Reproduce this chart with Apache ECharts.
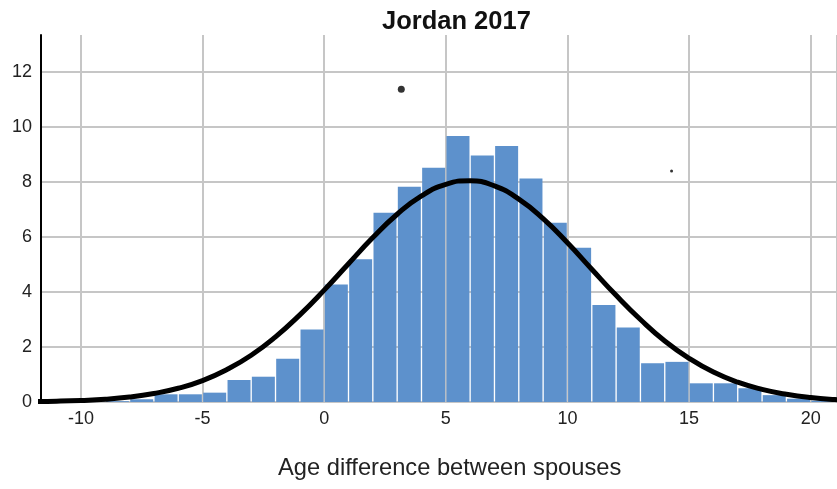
<!DOCTYPE html>
<html>
<head>
<meta charset="utf-8">
<script src="https://cdn.jsdelivr.net/npm/echarts@6/dist/echarts.min.js"></script>
<style>
html,body{margin:0;padding:0;background:#fff;}
#chart{width:837px;height:489px;}
</style>
</head>
<body>
<div id="chart"></div>
<script>
// Histogram bins (left edge of each 1-year bin) and their heights (%)
const binStarts = [-10,-9,-8,-7,-6,-5,-4,-3,-2,-1,0,1,2,3,4,5,6,7,8,9,10,11,12,13,14,15,16,17,18,19,20];
const binValues = [0.02,0.03,0.10,0.28,0.28,0.34,0.80,0.92,1.57,2.64,4.27,5.19,6.88,7.83,8.52,9.68,8.97,9.31,8.13,6.52,5.61,3.53,2.71,1.41,1.46,0.68,0.68,0.50,0.25,0.12,0.05];
// Fitted curve
const curveX = [-12,-11,-10,-9,-8,-7,-6,-5,-4,-3,-2,-1,0,1,2,3,4,5,6,7,8,9,10,11,12,13,14,15,16,17,18,19,20,21,22];
const curveY = [0.015,0.03,0.057,0.10,0.18,0.31,0.50,0.78,1.18,1.70,2.37,3.17,4.07,5.03,5.98,6.83,7.50,7.92,8.05,7.86,7.38,6.67,5.79,4.83,3.88,3.00,2.22,1.59,1.09,0.72,0.46,0.28,0.16,0.09,0.05];
// Stray dots in the picture
const dotX = [3.17, 14.28];
const dotY = [11.38, 8.40];
const dotSize = [7, 3];

const titleText = 'Jordan 2017';
const xAxisTitle = 'Age difference between spouses';

const FONT = '"Liberation Sans", Arial, sans-serif';
const GRID = '#c6c6c6';

const chart = echarts.init(document.getElementById('chart'), null, {renderer: 'canvas'});
const barData = binStarts.map((s, i) => [s + 0.5, binValues[i]]);
const curveData = curveX.map((x, i) => [x, curveY[i]]);
const dotData = dotX.map((x, i) => ({value: [x, dotY[i]], symbolSize: dotSize[i]}));

chart.setOption({
  animation: false,
  backgroundColor: '#fff',
  title: {
    text: titleText,
    left: 377, top: 4,
    textStyle: {fontFamily: FONT, fontSize: 25.5, fontWeight: 'bold', color: '#111'}
  },
  grid: {left: 41, right: 0, top: 35, bottom: 87, containLabel: false},
  xAxis: {
    type: 'value',
    min: -11.64, max: 21.08,
    splitNumber: 6,
    axisLine: {show: false},
    axisTick: {show: false},
    axisLabel: {
      showMinLabel: false, showMaxLabel: false,
      margin: 8,
      fontFamily: FONT, fontSize: 18, color: '#222',
      formatter: v => (Math.abs(v % 5) < 1e-6 ? String(v) : '')
    },
    splitLine: {show: true, lineStyle: {color: GRID, width: 2}}
  },
  yAxis: {
    type: 'value',
    min: 0, max: 13.35, interval: 2,
    axisLine: {show: true, onZero: false, lineStyle: {color: '#000', width: 2}},
    axisTick: {show: false},
    axisLabel: {
      showMaxLabel: false,
      margin: 9,
      fontFamily: FONT, fontSize: 18, color: '#222',
      formatter: v => (Math.abs(v % 2) < 1e-6 ? String(v) : '')
    },
    splitLine: {show: true, lineStyle: {color: [GRID,GRID,GRID,GRID,GRID,GRID,GRID,'rgba(0,0,0,0)'], width: 2}}
  },
  graphic: [{
    type: 'text',
    left: 278, top: 456,
    style: {text: xAxisTitle, fontFamily: FONT, fontSize: 23.7, fill: '#222'}
  }],
  series: [
    {
      type: 'bar',
      data: barData,
      barWidth: 23,
      itemStyle: {color: '#5d91cc'},
      z: 2
    },
    {
      type: 'line',
      data: curveData,
      smooth: true,
      showSymbol: false,
      symbol: 'none',
      lineStyle: {color: '#000', width: 5},
      clip: true,
      z: 3
    },
    {
      type: 'scatter',
      data: dotData,
      itemStyle: {color: '#000'},
      z: 4
    }
  ]
});
</script>
</body>
</html>
